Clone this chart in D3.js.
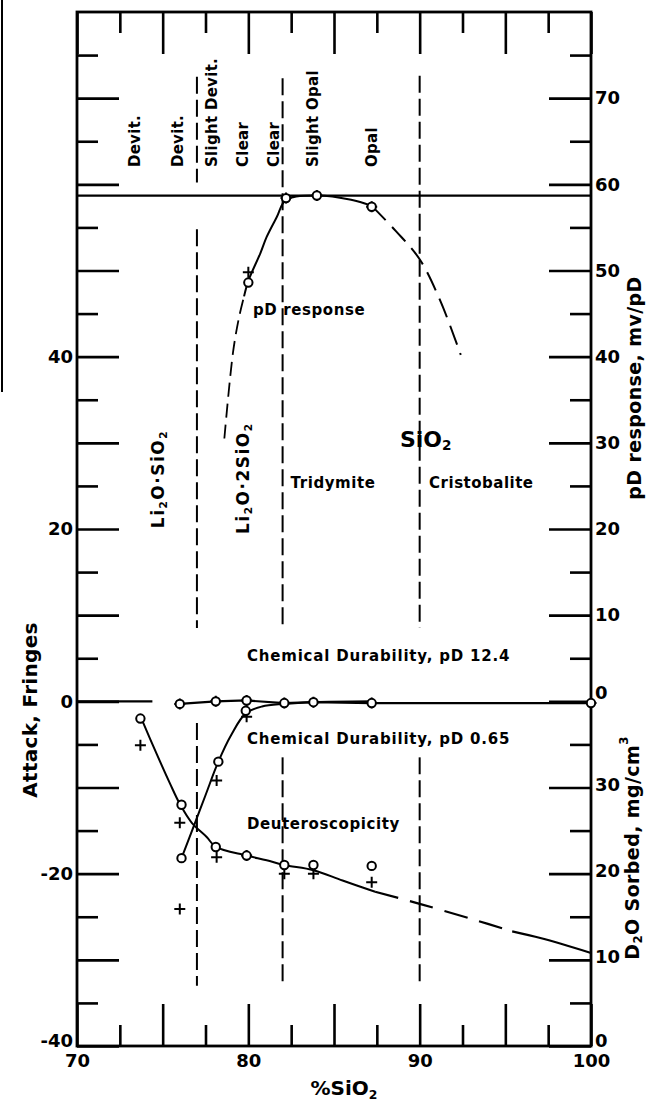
<!DOCTYPE html>
<html><head><meta charset="utf-8">
<script src="https://cdn.jsdelivr.net/npm/d3@7"></script>
<style>
body{margin:0;background:#fff}
text{font-family:"DejaVu Sans",sans-serif;font-weight:bold;fill:#000}
</style>
</head><body>
<svg id="c" width="648" height="1105"></svg>
<script>
// ---------------- DATA ----------------
// x axis (% SiO2)
const xMajorTicks = [70,75,80,85,90,95,100];
const xMinorTicks = [72.5,77.5,82.5,87.5,92.5,97.5];
const xTickLabels = [70,80,90,100];
// left axis (Attack, Fringes)
const yMajorTicks = [-40,-30,-20,-10,0,10,20,30,40,50,60,70];
const yMinorTicks = [-35,-25,-15,-5,5,15,25,35,45,55,65,75];
const yTickLabels = [-40,-20,0,20,40];
// right axis upper (pD response, mv/pD)
const pdMajorTicks = [0,10,20,30,40,50,60,70];
const pdMinorTicks = [5,15,25,35,45,55,65,75];
const pdTickLabels = [0,10,20,30,40,50,60,70];
// right axis lower (D2O sorbed, mg/cm3)
const d2oMinorTicks = [5,15,25,35];
const d2oTickLabels = [0,10,20,30];

// phase boundaries (% SiO2)
const boundaryX = [77, 82, 90];
// phase labels along the top
const phaseLabels = ["Devit.","Devit.","Slight Devit.","Clear","Clear","Slight Opal","Opal"];

// pD response (mv/pD)
const pdCircleX = [80, 82.2, 84, 87.2];
const pdCircleY = [48.6, 58.4, 58.7, 57.4];
const pdPlusX = [80, 82.2, 84, 87.2];
const pdPlusY = [49.8, 58.4, 58.7, 57.4];
const pdLowDashX = [78.6, 79.1, 79.45, 79.75];
const pdLowDashY = [30.5, 40.4, 44.5, 47.0];
const pdSolidX = [79.75, 80.0, 80.7, 81.07, 81.66, 82.2, 84.0, 86.0, 87.2];
const pdSolidY = [47.0, 48.8, 52.0, 53.9, 56.2, 58.2, 58.7, 58.2, 57.5];
const pdHighDashX = [87.2, 88.6, 90.0, 91.2, 92.4];
const pdHighDashY = [57.5, 54.6, 51.3, 46.5, 40.2];
const nernstLevel = 58.7;

// Chemical durability, pD 12.4 (fringes)
const cd124X = [76, 78.1, 79.9, 82.1, 83.8, 87.2, 100];
const cd124Y = [-0.3, 0, 0.1, -0.2, -0.1, -0.2, -0.2];
const zeroStubX = [70, 74.4];

// Chemical durability, pD 0.65 (fringes)
const cd065CircleX = [76.1, 78.25, 79.85];
const cd065CircleY = [-18.2, -7.0, -1.1];
const cd065PlusX = [76.0, 78.15, 79.9];
const cd065PlusY = [-24.1, -9.2, -1.8];
const cd065CurveX = [76.1, 76.85, 77.5, 78.25, 79.0, 79.85, 80.8, 82.1, 83.8, 87.2];
const cd065CurveY = [-18.2, -14.3, -10.9, -7.0, -3.9, -1.4, -0.6, -0.3, -0.1, 0];

// Deuteroscopicity (D2O sorbed, mg/cm3)
const deutCircleX = [73.7, 76.1, 78.1, 79.9, 82.1, 83.8, 87.2];
const deutCircleY = [38.0, 28.0, 23.1, 22.1, 21.0, 21.0, 20.9];
const deutPlusX = [73.7, 76.0, 78.15, 79.9, 82.1, 83.8, 87.2];
const deutPlusY = [34.9, 25.9, 21.9, 22.1, 20.0, 20.0, 19.0];
const deutSolidX = [73.78, 74.65, 75.43, 76.0, 76.7, 77.57, 78.1, 79.9, 81.07, 82.1, 83.8, 85.5, 87.4];
const deutSolidY = [37.9, 33.9, 30.45, 28.1, 25.9, 24.25, 23.1, 22.1, 21.55, 21.0, 20.4, 19.2, 17.9];
const deutDashX = [87.4, 90, 93.1, 95.4];
const deutDashY = [17.9, 16.5, 14.7, 13.3];
const deutTailX = [95.4, 97.1, 100];
const deutTailY = [13.3, 12.5, 10.8];

// ---------------- LAYOUT ----------------
const L = 77, R = 591, T = 12, B = 1046;
const svg = d3.select("#c");
const x = d3.scaleLinear().domain([70,100]).range([L,R]);
const y = d3.scaleLinear().domain([-40,80]).range([B,T]);
const yPD = d3.scaleLinear().domain([-40,80]).range([B,T]);
const yD2O = d3.scaleLinear().domain([0,120]).range([B,T]);

const LONG = 42, SHORT = 21, TW = 2.6;
const tickFont = 18;

function styleAxis(g){
  g.select(".domain").remove();
  g.selectAll(".tick line").attr("stroke","#000").attr("stroke-width",TW);
  g.selectAll(".tick text").attr("font-size",tickFont).attr("font-family","DejaVu Sans").attr("font-weight","bold").attr("fill","#000");
}
const fmt = labels => d => labels.includes(d) ? String(d) : "";

// bottom
svg.append("g").attr("transform",`translate(0,${B})`)
  .call(d3.axisBottom(x).tickValues(xMajorTicks).tickSize(-LONG).tickPadding(8).tickFormat(fmt(xTickLabels))).call(styleAxis);
svg.append("g").attr("transform",`translate(0,${B})`)
  .call(d3.axisBottom(x).tickValues(xMinorTicks).tickSize(-SHORT).tickFormat("")).call(styleAxis);
// top
svg.append("g").attr("transform",`translate(0,${T})`)
  .call(d3.axisTop(x).tickValues(xMajorTicks).tickSize(-LONG).tickFormat("")).call(styleAxis);
svg.append("g").attr("transform",`translate(0,${T})`)
  .call(d3.axisTop(x).tickValues(xMinorTicks).tickSize(-SHORT).tickFormat("")).call(styleAxis);
// left
const gl = svg.append("g").attr("transform",`translate(${L},0)`)
  .call(d3.axisLeft(y).tickValues(yMajorTicks).tickSize(-LONG).tickPadding(4).tickFormat(fmt(yTickLabels))).call(styleAxis);
gl.selectAll(".tick text").filter(d=>d===-40).attr("dy","0.05em");
svg.append("g").attr("transform",`translate(${L},0)`)
  .call(d3.axisLeft(y).tickValues(yMinorTicks).tickSize(-SHORT).tickFormat("")).call(styleAxis);
// right upper (pD)
const gr = svg.append("g").attr("transform",`translate(${R},0)`)
  .call(d3.axisRight(yPD).tickValues(pdMajorTicks).tickSize(-LONG).tickPadding(4).tickFormat(fmt(pdTickLabels))).call(styleAxis);
gr.selectAll(".tick text").filter(d=>d===0).attr("dy","-0.15em");
svg.append("g").attr("transform",`translate(${R},0)`)
  .call(d3.axisRight(yPD).tickValues(pdMinorTicks).tickSize(-SHORT).tickFormat("")).call(styleAxis);
// right lower (D2O)
const gd = svg.append("g").attr("transform",`translate(${R},0)`)
  .call(d3.axisRight(yD2O).tickValues(d2oTickLabels).tickSize(-LONG).tickPadding(4).tickFormat(d=>String(d))).call(styleAxis);
gd.selectAll(".tick text").attr("dy","0.15em");
gd.selectAll(".tick text").filter(d=>d===0).attr("dy","0.05em");
svg.append("g").attr("transform",`translate(${R},0)`)
  .call(d3.axisRight(yD2O).tickValues(d2oMinorTicks).tickSize(-SHORT).tickFormat("")).call(styleAxis);

// frame
svg.append("rect").attr("x",L).attr("y",T).attr("width",R-L).attr("height",B-T)
  .attr("fill","none").attr("stroke","#000").attr("stroke-width",2.8);

// scan edge line at far left
svg.append("line").attr("x1",2).attr("x2",2).attr("y1",0).attr("y2",392).attr("stroke","#000").attr("stroke-width",2);

// ---------- phase boundary dashed lines ----------
const boundarySegs = [
  [[72.5,60.2],[54.8,8.5],[-2.5,-33]],
  [[72.3,8.5],[-6.5,-32.8]],
  [[72.6,8.5],[-6.5,-32.8]]
];
boundaryX.forEach((bx,i)=>{
  boundarySegs[i].forEach(s=>{
    svg.append("line").attr("x1",x(bx)).attr("x2",x(bx)).attr("y1",y(s[0])).attr("y2",y(s[1]))
      .attr("stroke","#000").attr("stroke-width",2).attr("stroke-dasharray","17,6");
  });
});

// ---------- lines ----------
const zip = (xs,ys)=>xs.map((v,i)=>[v,ys[i]]);
const lineY = d3.line().x(d=>x(d[0])).y(d=>y(d[1])).curve(d3.curveCatmullRom.alpha(0.5));
const lineD = d3.line().x(d=>x(d[0])).y(d=>yD2O(d[1])).curve(d3.curveCatmullRom.alpha(0.5));
function path(gen,data,dash,w){
  svg.append("path").attr("d",gen(data)).attr("fill","none").attr("stroke","#000")
    .attr("stroke-width",w||2).attr("stroke-dasharray",dash||null).attr("stroke-linecap","butt");
}
// Nernst reference line
path(d3.line().x(d=>x(d[0])).y(d=>yPD(d[1])), [[70,nernstLevel],[100,nernstLevel]], null, 2.2);
// zero line
path(d3.line().x(d=>x(d[0])).y(d=>y(d[1])), zeroStubX.map(v=>[v,0]), null, 2.2);
path(d3.line().x(d=>x(d[0])).y(d=>y(d[1])), zip(cd124X,cd124Y), null, 2.2);
// pD response
path(lineY, zip(pdLowDashX,pdLowDashY), "14,7", 1.8);
path(lineY, zip(pdSolidX,pdSolidY), null, 2);
path(lineY, zip(pdHighDashX,pdHighDashY), "20,9", 2);
// chem durability 0.65
path(lineY, zip(cd065CurveX,cd065CurveY), null, 2);
// deuteroscopicity
path(lineD, zip(deutSolidX,deutSolidY), null, 2);
path(lineD, zip(deutDashX,deutDashY), "24,12", 2.2);
path(lineD, zip(deutTailX,deutTailY), null, 2.2);

// ---------- markers ----------
function circles(xs,ys,sc){
  svg.append("g").selectAll("circle").data(zip(xs,ys)).join("circle")
    .attr("cx",d=>x(d[0])).attr("cy",d=>sc(d[1])).attr("r",4.2)
    .attr("fill","#fff").attr("stroke","#000").attr("stroke-width",2);
}
function pluses(xs,ys,sc){
  svg.append("g").selectAll("path").data(zip(xs,ys)).join("path")
    .attr("transform",d=>`translate(${x(d[0])},${sc(d[1])})`)
    .attr("d","M-5.5,0H5.5M0,-5.5V5.5").attr("stroke","#000").attr("stroke-width",2).attr("fill","none");
}
pluses(pdPlusX,pdPlusY,yPD); circles(pdCircleX,pdCircleY,yPD);
pluses(cd124X,cd124Y,y); circles(cd124X,cd124Y,y);
pluses(cd065PlusX,cd065PlusY,y); circles(cd065CircleX,cd065CircleY,y);
pluses(deutPlusX,deutPlusY,yD2O); circles(deutCircleX,deutCircleY,yD2O);

// ---------- texts ----------
function rich(g, parts, size){
  const t = g.append("text").attr("font-size",size);
  let shift = 0;
  parts.forEach(p=>{
    const k = p[1]||"n";
    const target = k==="sub" ? size*0.3 : k==="sup" ? -size*0.4 : 0;
    const ts = t.append("tspan").text(p[0]).attr("dy", target-shift);
    if(k!=="n") ts.attr("font-size", size*0.62);
    shift = target;
  });
  return t;
}
// phase labels (rotated, bottom aligned)
const phaseX = [73.4, 75.9, 77.9, 79.7, 81.5, 83.8, 87.2];
phaseLabels.forEach((s,i)=>{
  svg.append("text").attr("transform",`translate(${x(phaseX[i])},${y(62.0)}) rotate(-90)`)
    .attr("font-size",15).attr("dominant-baseline","central").attr("letter-spacing",0.3).text(s);
});
function rotRich(px,py,parts,size,ls){
  const g = svg.append("g").attr("transform",`translate(${px},${py}) rotate(-90)`);
  const t = rich(g,parts,size).attr("text-anchor","middle").attr("dominant-baseline","central");
  if(ls) t.attr("letter-spacing",ls);
  return t;
}
rotRich(x(74.7), y(25.8), [["Li"],["2","sub"],["O·SiO"],["2","sub"]], 17, 1.5);
rotRich(x(79.7), y(25.9), [["Li"],["2","sub"],["O·2SiO"],["2","sub"]], 17, 1.5);

function hText(xv,yv,s,size,ls){
  return svg.append("text").attr("x",x(xv)).attr("y",y(yv)).attr("font-size",size)
    .attr("dominant-baseline","central").attr("letter-spacing",ls||0).text(s);
}
hText(80.27, 45.4, "pD response", 15, 0.6);
hText(82.46, 25.3, "Tridymite", 15, 0.6);
hText(90.55, 25.3, "Cristobalite", 15, 0.5);
hText(79.92, 5.3, "Chemical Durability, pD 12.4", 15, 0.8);
hText(79.92, -4.4, "Chemical Durability,  pD 0.65", 15, 0.8);
hText(79.92, -14.2, "Deuteroscopicity", 15, 0.6);
{
  const g = svg.append("g").attr("transform",`translate(${x(88.85)},${y(30.5)})`);
  rich(g, [["SiO"],["2","sub"]], 22).attr("dominant-baseline","central");
}

// axis titles
rotRich(30, 710, [["Attack, Fringes"]], 20, 0.3);
rotRich(634, 388, [["pD response, mv/pD"]], 19, 0.4);
rotRich(632, 848, [["D"],["2","sub"],["O Sorbed, mg/cm"],["3","sup"]], 19, 0.4);
{
  const g = svg.append("g").attr("transform",`translate(344,1088)`);
  rich(g, [["%SiO"],["2","sub"]], 20).attr("text-anchor","middle").attr("dominant-baseline","central");
}
</script>
</body></html>
